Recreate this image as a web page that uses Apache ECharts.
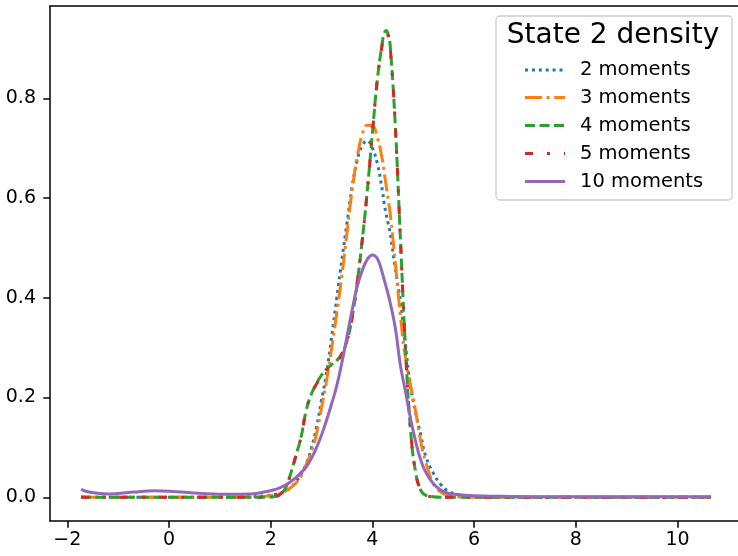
<!DOCTYPE html>
<html><head><meta charset="utf-8">
<script src="https://cdn.jsdelivr.net/npm/echarts@6/dist/echarts.min.js"></script>
<style>html,body{margin:0;padding:0;background:#fff;overflow:hidden}#c{width:746px;height:556px}</style>
</head><body><div id="c"></div>
<script>
const xs = [-1.73,-1.55,-1.2,-0.7,-0.3,0.15,0.6,1.2,1.6,1.9,2.1,2.2,2.3,2.4,2.5,2.6,2.7,2.8,2.9,3.0,3.1,3.2,3.3,3.4,3.5,3.6,3.7,3.8,3.9,4.0,4.1,4.2,4.23,4.27,4.31,4.35,4.45,4.55,4.65,4.75,4.85,4.95,5.05,5.2,5.35,5.5,5.7,6.0,6.5,7.5,9.0,10.66];
const moments2 = [0,0,0,0,0,0,0,0,0.001,0.003,0.006,0.009,0.013,0.02,0.032,0.047,0.068,0.098,0.14,0.195,0.25,0.322,0.40,0.476,0.55,0.622,0.675,0.705,0.715,0.70,0.668,0.612,0.59,0.568,0.549,0.53,0.458,0.393,0.305,0.222,0.17,0.125,0.082,0.048,0.025,0.012,0.005,0.001,0,0,0,0];
const moments3 = [0,0,0,0,0,0,0,0,0,0.002,0.005,0.008,0.013,0.02,0.029,0.043,0.066,0.092,0.127,0.18,0.235,0.30,0.37,0.445,0.53,0.615,0.68,0.728,0.746,0.745,0.72,0.675,0.653,0.625,0.597,0.569,0.47,0.365,0.28,0.225,0.172,0.112,0.07,0.027,0.01,0.004,0.001,0,0,0,0,0];
const moments4 = [0,0,0,0,0,0,0,0,0,0,0.002,0.007,0.02,0.05,0.085,0.122,0.175,0.207,0.228,0.245,0.257,0.266,0.274,0.288,0.313,0.36,0.43,0.515,0.615,0.73,0.84,0.915,0.93,0.936,0.928,0.905,0.745,0.52,0.30,0.135,0.05,0.014,0.004,0.001,0,0,0,0,0,0,0,0];
const moments5 = [0,0,0,0,0,0,0,0,0,0,0.002,0.007,0.02,0.05,0.085,0.122,0.175,0.207,0.227,0.243,0.256,0.265,0.272,0.287,0.312,0.36,0.43,0.515,0.615,0.73,0.84,0.913,0.927,0.932,0.925,0.903,0.745,0.52,0.30,0.135,0.05,0.014,0.004,0.001,0,0,0,0,0,0,0,0];
const moments10 = [0.016,0.01,0.0068,0.0105,0.0132,0.0112,0.008,0.006,0.0068,0.011,0.016,0.02,0.025,0.032,0.04,0.05,0.061,0.078,0.099,0.125,0.155,0.188,0.224,0.27,0.322,0.375,0.422,0.455,0.477,0.486,0.478,0.448,0.437,0.422,0.407,0.39,0.34,0.265,0.212,0.158,0.112,0.075,0.05,0.027,0.014,0.008,0.005,0.003,0.002,0.001,0.001,0.001];
const seriesNames = ['2 moments','3 moments','4 moments','5 moments','10 moments'];
const xTicks = [-2,0,2,4,6,8,10];
const yTicks = [0,0.2,0.4,0.6,0.8];
const legendTitle = 'State 2 density';

const colors = ['#1f77b4','#ff7f0e','#2ca02c','#d62728','#9467bd'];
const dashes = [[3,3.9],[17,4.6,3,4.6],[10,4.5],[8,14,3,14],null];
const LW = 3;
const allData = [moments2,moments3,moments4,moments5,moments10];
const FONT = 'DejaVu Sans';

const chart = echarts.init(document.getElementById('c'));
const series = allData.map((ys,i)=>({
  type:'line', name: seriesNames[i], showSymbol:false, symbol:'none',
  smooth:0.45, clip:false, z: 2+i, xAxisIndex:0,
  data: xs.map((x,j)=>[x, ys[j]]),
  lineStyle:{color:colors[i], width:LW, type: dashes[i] ? dashes[i] : 'solid', cap:'butt', join:'round'},
  itemStyle:{color:colors[i]}
}));

const lgX0 = 496, lgY0 = 16, lgW = 236, lgH = 184;
const rowY = [70,97.5,125.5,153.5,181.5];
const graphics = [
  {type:'rect', shape:{x:lgX0, y:lgY0, width:lgW, height:lgH, r:4}, style:{fill:'rgba(255,255,255,0.85)', stroke:'#cccccc', lineWidth:1.3}, z:100},
  {type:'text', x:613, y:36, style:{text:legendTitle, font:'28px "DejaVu Sans"', fill:'#000', textAlign:'center', textVerticalAlign:'middle'}, z:101}
];
seriesNames.forEach((n,i)=>{
  graphics.push({type:'line', shape:{x1:525,y1:rowY[i],x2:565,y2:rowY[i]}, style:{stroke:colors[i], lineWidth:LW, lineDash: dashes[i] || null, lineCap:'butt'}, z:101});
  graphics.push({type:'text', x:580, y:rowY[i], style:{text:n, font:'19.5px "DejaVu Sans"', fill:'#000', textAlign:'left', textVerticalAlign:'middle'}, z:101});
});

const axisCommon = {type:'value', min:-2.34, max:11.28, splitLine:{show:false}};
chart.setOption({
  animation:false,
  backgroundColor:'#fff',
  grid:{left:50, top:6, right:3.4, bottom:35, show:false},
  xAxis:[
    Object.assign({}, axisCommon, {position:'bottom',
      axisLine:{show:true, onZero:false, lineStyle:{color:'#000', width:1.5}},
      axisTick:{show:true, length:6.7, lineStyle:{color:'#000', width:1.5}, customValues:xTicks},
      axisLabel:{show:true, customValues:xTicks, margin:10, color:'#000', fontFamily:FONT, fontSize:19,
        formatter:v=>String(Math.round(v)).replace('-','\u2212')}}),
    Object.assign({}, axisCommon, {position:'top',
      axisLine:{show:true, onZero:false, lineStyle:{color:'#000', width:1.5}},
      axisTick:{show:false}, axisLabel:{show:false}})
  ],
  yAxis:{type:'value', min:-0.0475, max:0.985,
    axisLine:{show:true, onZero:false, lineStyle:{color:'#000', width:1.5}},
    axisTick:{show:true, length:6.7, lineStyle:{color:'#000', width:1.5}, customValues:yTicks},
    axisLabel:{show:true, customValues:yTicks, margin:14, color:'#000', fontFamily:FONT, fontSize:19,
      formatter:v=>v.toFixed(1)},
    splitLine:{show:false}},
  series: series,
  graphic: graphics
});
</script></body></html>
